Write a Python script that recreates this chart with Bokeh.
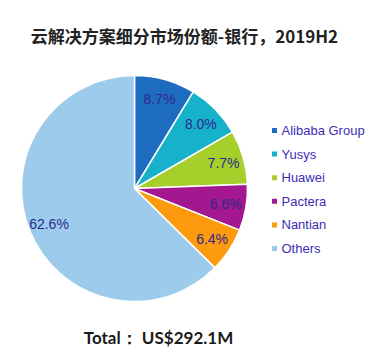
import math
from bokeh.plotting import figure
from bokeh.models import Range1d, ColumnDataSource
from bokeh.core.properties import value
from bokeh.embed import file_html
from bokeh.resources import INLINE

# ---- data ----
title = "云解决方案细分市场份额-银行，2019H2"
total_label = "Total： US$292.1M"
vendors = ["Alibaba Group", "Yusys", "Huawei", "Pactera", "Nantian", "Others"]
shares = [8.7, 8.0, 7.7, 6.6, 6.4, 62.6]
colors = ["#1e6cbf", "#16b1cb", "#a6cf2c", "#a3178f", "#fd9a0d", "#9dcbec"]

# ---- layout (picture pixel coords -> data coords) ----
W, H = 367, 348
def Y(py):
    return H - py

p = figure(width=W, height=H, output_backend="svg", toolbar_location=None,
           x_range=Range1d(0, W), y_range=Range1d(0, H),
           min_border=0, outline_line_color=None)
p.axis.visible = False
p.grid.visible = False
p.background_fill_color = "white"
p.border_fill_color = "white"

cx, cy, r = 134, Y(188), 113
total = sum(shares)
starts, ends, lx, ly, labels = [], [], [], [], []
cum = 0.0
for s in shares:
    a0 = math.pi / 2 - 2 * math.pi * cum / total
    a1 = math.pi / 2 - 2 * math.pi * (cum + s) / total
    mid = (a0 + a1) / 2
    starts.append(a0)
    ends.append(a1)
    lx.append(cx + 0.82 * r * math.cos(mid))
    ly.append(cy + 0.82 * r * math.sin(mid))
    labels.append(f"{s:.1f}%")
    cum += s

src = ColumnDataSource(dict(start=starts, end=ends, color=colors, lx=lx, ly=ly, label=labels))
p.wedge(x=cx, y=cy, radius=r, start_angle="start", end_angle="end", direction="clock",
        fill_color="color", line_color="white", line_width=1.5, source=src)
p.text(x="lx", y="ly", text="label", source=src, text_align="center", text_baseline="middle",
       text_font=value("Liberation Sans"), text_font_size="14px", text_color="#2d2a8a")

# legend
leg_y = [Y(130 + i * 23.6) for i in range(len(vendors))]
leg = ColumnDataSource(dict(y=leg_y, name=vendors, color=colors))
p.scatter(x=274, y="y", marker="square", size=5, fill_color="color", line_color=None, source=leg)
p.text(x=281, y="y", text="name", source=leg, text_align="left", text_baseline="middle",
       text_font=value("Liberation Sans"), text_font_size="13px", text_color="#3d2db5")

# title & total
p.text(x=[184], y=[Y(35)], text=[title], text_align="center", text_baseline="middle",
       text_font=value("Noto Sans CJK SC"), text_font_style="bold", text_font_size="17px",
       text_color="#222222")
p.text(x=[158], y=[Y(337)], text=[total_label], text_align="center", text_baseline="middle",
       text_font=value("Lato"), text_font_style="bold", text_font_size="17px",
       text_color="#1a1a1a")

open("out.html", "w").write(file_html(p, INLINE))
